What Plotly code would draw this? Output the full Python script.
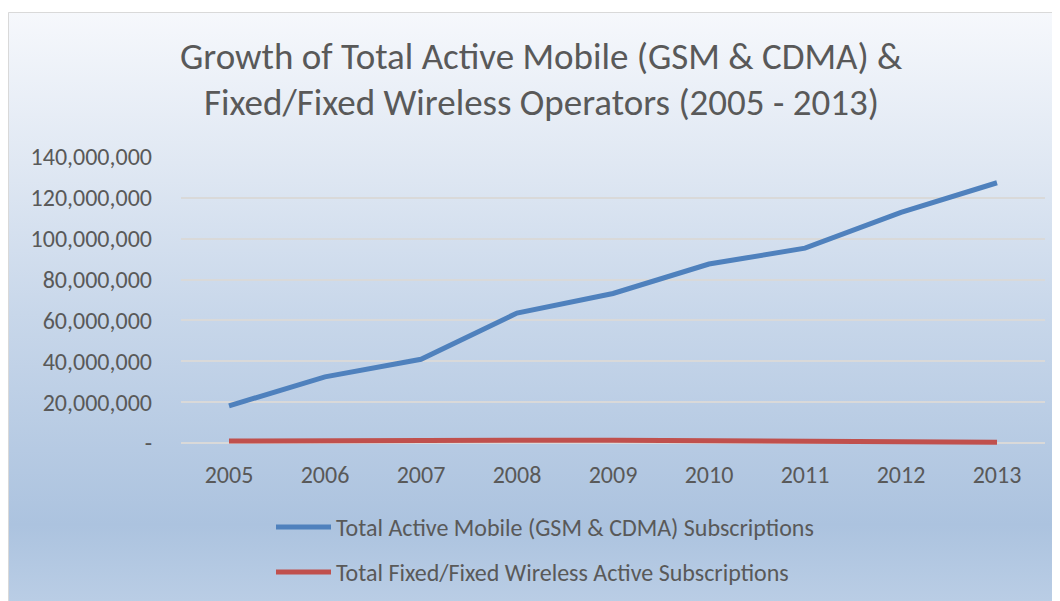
import base64
import plotly.graph_objects as go

years = ["2005", "2006", "2007", "2008", "2009", "2010", "2011", "2012", "2013"]
mobile = [18.2e6, 32.4e6, 41.0e6, 63.6e6, 73.2e6, 87.6e6, 95.4e6, 112.9e6, 127.4e6]
fixed = [1.0e6, 1.3e6, 1.4e6, 1.3e6, 1.3e6, 1.0e6, 0.8e6, 0.4e6, 0.4e6]
series_names = ["Total Active Mobile (GSM & CDMA) Subscriptions",
                "Total Fixed/Fixed Wireless Active Subscriptions"]
series_colors = ["#4f81bd", "#c0504d"]
title_lines = ["Growth of Total Active Mobile (GSM & CDMA) &",
               "Fixed/Fixed Wireless Operators (2005 - 2013)"]
y_tickvals = [0, 20e6, 40e6, 60e6, 80e6, 100e6, 120e6, 140e6]
y_ticktext = ["-" if v == 0 else f"{int(v):,}" for v in y_tickvals]
Y_MAX = 140e6

FONT = "Carlito, Lato, sans-serif"
TXT = "#595959"

OFF = 8  # page body margin
W, H = 1060 - OFF, 601 - OFF
# reference pixels: x 181..1045, y(140M)=157, y(0)=443; plot extended a bit below 0
TOP_PX, ZERO_PX, BOT_PX = 157, 443, 449
Y_MIN = -(BOT_PX - ZERO_PX) / (ZERO_PX - TOP_PX) * Y_MAX
L, R, T, B = 181 - OFF, 1060 - 1045, TOP_PX - OFF, 601 - BOT_PX
pw, ph = W - L - R, H - T - B


def px_x(x):
    return (x - OFF - L) / pw


def px_y(y):
    return (BOT_PX - y) / ph


svg = (
    "<svg xmlns='http://www.w3.org/2000/svg' width='100' height='100' preserveAspectRatio='none'>"
    "<defs><linearGradient id='g' x1='0' y1='0' x2='0' y2='1'>"
    "<stop offset='0' stop-color='#f6f8fc'/>"
    "<stop offset='0.25' stop-color='#e0e8f3'/>"
    "<stop offset='0.5' stop-color='#c8d7ea'/>"
    "<stop offset='0.85' stop-color='#acc3df'/>"
    "<stop offset='1' stop-color='#bccfe6'/>"
    "</linearGradient></defs>"
    "<rect width='100' height='100' fill='url(#g)'/></svg>"
)
src = "data:image/svg+xml;base64," + base64.b64encode(svg.encode()).decode()

fig = go.Figure()
for name, vals, col in zip(series_names, [mobile, fixed], series_colors):
    fig.add_trace(go.Scatter(x=years, y=vals, mode="lines", name=name,
                             line=dict(color=col, width=5), showlegend=False))

fx0, fx1 = px_x(8), px_x(1075)
fy1, fy0 = px_y(12), px_y(615)
fig.add_layout_image(dict(source=src, xref="paper", yref="paper",
                          x=fx0, y=fy1, sizex=fx1 - fx0, sizey=fy1 - fy0,
                          xanchor="left", yanchor="top", sizing="stretch",
                          layer="below"))
fig.add_shape(type="rect", xref="paper", yref="paper", x0=px_x(8.5), x1=fx1, y0=fy0, y1=px_y(12.5),
              line=dict(color="#d9d9d9", width=1), fillcolor="rgba(0,0,0,0)", layer="below")

# title
for line, ypx in zip(title_lines, [57, 103]):
    fig.add_annotation(text=line, xref="paper", yref="paper", x=px_x(541), y=px_y(ypx),
                       xanchor="center", yanchor="middle", showarrow=False,
                       font=dict(family=FONT, size=37, color=TXT))

# legend (manual)
for name, col, ypx in zip(series_names, series_colors, [527, 572]):
    fig.add_shape(type="line", xref="paper", yref="paper",
                  x0=px_x(276), x1=px_x(331), y0=px_y(ypx), y1=px_y(ypx),
                  line=dict(color=col, width=5))
    fig.add_annotation(text=name, xref="paper", yref="paper", x=px_x(334), y=px_y(ypx),
                       xanchor="left", yanchor="middle", showarrow=False,
                       font=dict(family=FONT, size=24, color=TXT))

fig.update_layout(
    width=W, height=H,
    margin=dict(l=L, r=R, t=T, b=B, pad=0),
    paper_bgcolor="white", plot_bgcolor="rgba(0,0,0,0)",
    font=dict(family=FONT, size=24, color=TXT),
    showlegend=False,
)
fig.update_xaxes(type="category", range=[-0.5, 8.5], showgrid=False, showline=False,
                 zeroline=False, ticks="", ticklabelstandoff=9,
                 tickfont=dict(family=FONT, size=24, color=TXT))
fig.update_yaxes(range=[Y_MIN, Y_MAX], tickvals=y_tickvals, ticktext=y_ticktext,
                 showgrid=True, gridcolor="#d9d9d9", gridwidth=1.5,
                 zeroline=True, zerolinecolor="#d9d9d9", zerolinewidth=1.5,
                 showline=False, ticks="", ticklabelstandoff=28,
                 tickfont=dict(family=FONT, size=24, color=TXT))

fig.write_html("out.html")
